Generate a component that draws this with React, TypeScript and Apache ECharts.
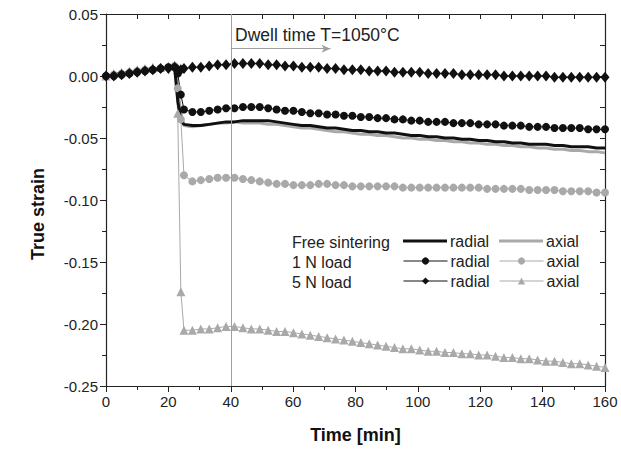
import React, { useEffect, useRef } from "react";
import * as echarts from "echarts";

// Time [min]
const TIME = [
  0, 2.5, 5, 7.5, 10, 12.5, 15, 17.5, 20, 22,
  23, 24,
  25, 27.7, 30.4, 33.1, 35.8, 38.5, 41.2, 43.9, 46.6, 49.3,
  52, 54.7, 57.4, 60.1, 62.8, 65.5, 68.2, 70.9, 73.6, 76.3,
  79, 81.7, 84.4, 87.1, 89.8, 92.5, 95.2, 97.9, 100.6, 103.3,
  106, 108.7, 111.4, 114.1, 116.8, 119.5, 122.2, 124.9, 127.6, 130.3,
  133, 135.7, 138.4, 141.1, 143.8, 146.5, 149.2, 151.9, 154.6, 157.3,
  160,
];

const FREE_RADIAL = [
  0, 0.001, 0.002, 0.003, 0.004, 0.005, 0.005, 0.006, 0.007, 0.007,
  -0.02, -0.036,
  -0.039, -0.040, -0.040, -0.039, -0.038, -0.037, -0.037, -0.036, -0.036, -0.036,
  -0.036, -0.037, -0.038, -0.039, -0.040, -0.040, -0.041, -0.042, -0.042, -0.043,
  -0.044, -0.044, -0.045, -0.045, -0.046, -0.046, -0.047, -0.048, -0.048, -0.049,
  -0.049, -0.050, -0.050, -0.051, -0.051, -0.052, -0.052, -0.053, -0.053, -0.054,
  -0.054, -0.055, -0.055, -0.055, -0.056, -0.056, -0.057, -0.057, -0.057, -0.058,
  -0.058,
];

const FREE_AXIAL = [
  0, 0.001, 0.002, 0.003, 0.004, 0.005, 0.006, 0.006, 0.007, 0.008,
  -0.01, -0.03,
  -0.040, -0.041, -0.040, -0.039, -0.038, -0.038, -0.037, -0.038, -0.038, -0.038,
  -0.039, -0.039, -0.040, -0.041, -0.042, -0.042, -0.043, -0.044, -0.045, -0.045,
  -0.046, -0.047, -0.047, -0.048, -0.048, -0.049, -0.050, -0.050, -0.051, -0.051,
  -0.052, -0.052, -0.053, -0.053, -0.054, -0.054, -0.055, -0.055, -0.056, -0.056,
  -0.057, -0.057, -0.058, -0.058, -0.059, -0.059, -0.060, -0.060, -0.061, -0.061,
  -0.062,
];

const ONE_N_RADIAL = [
  0, 0.0, 0.001, 0.002, 0.003, 0.004, 0.005, 0.006, 0.007, 0.007,
  0.002, -0.015,
  -0.027, -0.029, -0.029, -0.028, -0.027, -0.026, -0.026, -0.025, -0.025, -0.025,
  -0.026, -0.027, -0.028, -0.028, -0.029, -0.030, -0.030, -0.031, -0.031, -0.032,
  -0.032, -0.033, -0.033, -0.034, -0.034, -0.035, -0.035, -0.036, -0.036, -0.037,
  -0.037, -0.037, -0.038, -0.038, -0.038, -0.039, -0.039, -0.039, -0.040, -0.040,
  -0.040, -0.041, -0.041, -0.041, -0.042, -0.042, -0.042, -0.042, -0.043, -0.043,
  -0.043,
];

const ONE_N_AXIAL = [
  0, 0.001, 0.002, 0.003, 0.004, 0.005, 0.005, 0.006, 0.007, 0.008,
  -0.01, -0.035,
  -0.080, -0.085, -0.084, -0.083, -0.082, -0.082, -0.082, -0.083, -0.084, -0.085,
  -0.086, -0.087, -0.087, -0.088, -0.088, -0.088, -0.087, -0.087, -0.088, -0.088,
  -0.089, -0.089, -0.089, -0.089, -0.089, -0.089, -0.090, -0.090, -0.090, -0.090,
  -0.090, -0.090, -0.090, -0.090, -0.090, -0.090, -0.091, -0.091, -0.091, -0.091,
  -0.091, -0.092, -0.092, -0.092, -0.092, -0.093, -0.093, -0.093, -0.093, -0.094,
  -0.094,
];

const FIVE_N_RADIAL = [
  0, 0.0, 0.001, 0.002, 0.003, 0.004, 0.005, 0.006, 0.006, 0.007,
  0.005, 0.005,
  0.006, 0.007, 0.007, 0.008, 0.009, 0.009, 0.010, 0.010, 0.010, 0.010,
  0.009, 0.009, 0.008, 0.008, 0.007, 0.007, 0.007, 0.006, 0.006, 0.005,
  0.005, 0.005, 0.004, 0.004, 0.004, 0.003, 0.003, 0.003, 0.003, 0.002,
  0.002, 0.002, 0.002, 0.001, 0.001, 0.001, 0.001, 0.001, 0.0, 0.0,
  0.0, 0.0, 0.0, 0.0, -0.001, -0.001, -0.001, -0.001, -0.001, -0.001,
  -0.001,
];

const FIVE_N_AXIAL = [
  0, 0.002, 0.003, 0.004, 0.005, 0.006, 0.007, 0.007, 0.008, 0.009,
  -0.03, -0.174,
  -0.205, -0.205, -0.204, -0.204, -0.203, -0.202, -0.202, -0.203, -0.204, -0.204,
  -0.205, -0.206, -0.206, -0.207, -0.208, -0.209, -0.210, -0.211, -0.212, -0.213,
  -0.214, -0.215, -0.216, -0.217, -0.218, -0.219, -0.220, -0.220, -0.221, -0.222,
  -0.222, -0.223, -0.223, -0.224, -0.224, -0.225, -0.225, -0.226, -0.227, -0.227,
  -0.228, -0.228, -0.229, -0.230, -0.230, -0.231, -0.232, -0.232, -0.233, -0.234,
  -0.235,
];

const ROW_LABELS = ["Free sintering", "1 N load", "5 N load"];
const DWELL_TEXT = "Dwell time T=1050°C";
const Y_TITLE = "True strain";
const X_TITLE = "Time [min]";
const DWELL_START = 40;

export default function App() {
  const ref = useRef<HTMLDivElement>(null);

  useEffect(() => {
    if (!ref.current) return;
    const chart = echarts.init(ref.current, null, { renderer: "svg" });
    const pair = (arr: number[]) => TIME.map((t, i) => [t, arr[i]]);
    const font = "Arial, 'Liberation Sans', sans-serif";
    const BLACK = "#111111";
    const GRAY = "#a9a9a9";
    const TXT = "#222222";

    const legendBase: any = {
      orient: "horizontal",
      padding: 0,
      itemWidth: 44,
      itemGap: 0,
      selectedMode: false,
      textStyle: { fontSize: 16, color: TXT, fontFamily: font, padding: [0, 0, 0, -2] },
      formatter: (n: string) => (n.endsWith("radial") ? "radial" : "axial"),
    };
    const thickLeg = (name: string, left: number, y: number) => ({
      ...legendBase,
      itemHeight: 3,
      data: [{ name, icon: "rect" }],
      left,
      top: y - 9,
    });
    const markLeg = (name: string, left: number, y: number) => ({
      ...legendBase,
      itemHeight: 9,
      lineStyle: { width: 1 },
      data: [name],
      left,
      top: y - 9,
    });
    const rowY = [242, 262, 282];

    const option: any = {
      animation: false,
      backgroundColor: "#ffffff",
      grid: { left: 106, right: 16, top: 14, bottom: 66, containLabel: false },
      legend: [
        thickLeg("Free sintering radial", 403, rowY[0]),
        thickLeg("Free sintering axial", 499, rowY[0]),
        markLeg("1 N load radial", 403, rowY[1]),
        markLeg("1 N load axial", 499, rowY[1]),
        markLeg("5 N load radial", 403, rowY[2]),
        markLeg("5 N load axial", 499, rowY[2]),
      ],
      graphic: [
        ...ROW_LABELS.map((t, i) => ({
          type: "text",
          x: 292,
          y: rowY[i],
          silent: true,
          style: { text: t, fontSize: 16, fontFamily: font, fill: TXT, verticalAlign: "middle" },
        })),
        {
          type: "text",
          x: 235,
          y: 35,
          silent: true,
          style: { text: DWELL_TEXT, fontSize: 17.5, fontFamily: font, fill: TXT, verticalAlign: "middle" },
        },
        {
          type: "text",
          x: 38,
          y: 214,
          rotation: Math.PI / 2,
          silent: true,
          style: {
            text: Y_TITLE,
            fontSize: 18,
            fontWeight: "bold",
            fontFamily: font,
            fill: BLACK,
            align: "center",
            verticalAlign: "middle",
          },
        },
      ],
      xAxis: [
        {
          type: "value",
          min: 0,
          max: 160,
          interval: 20,
          position: "bottom",
          axisLine: { show: true, onZero: false, lineStyle: { color: TXT, width: 1.2 } },
          axisTick: { show: true, inside: false, length: 6, lineStyle: { color: TXT } },
          minorTick: { show: true, splitNumber: 2, length: 4, lineStyle: { color: TXT } },
          splitLine: { show: false },
          axisLabel: { fontSize: 15, color: TXT, fontFamily: font, margin: 8 },
          name: X_TITLE,
          nameLocation: "middle",
          nameGap: 40,
          nameTextStyle: { fontSize: 18, fontWeight: "bold", color: BLACK, fontFamily: font },
        },
        {
          type: "value",
          min: 0,
          max: 160,
          interval: 10,
          position: "top",
          axisLine: { show: true, onZero: false, lineStyle: { color: TXT, width: 1.2 } },
          axisTick: { show: true, inside: true, length: 5, lineStyle: { color: TXT } },
          splitLine: { show: false },
          axisLabel: { show: false },
        },
      ],
      yAxis: [
        {
          type: "value",
          min: -0.25,
          max: 0.05,
          interval: 0.05,
          position: "left",
          axisLine: { show: true, onZero: false, lineStyle: { color: TXT, width: 1.2 } },
          axisTick: { show: true, inside: false, length: 6, lineStyle: { color: TXT } },
          minorTick: { show: true, splitNumber: 2, length: 4, lineStyle: { color: TXT } },
          splitLine: { show: false },
          axisLabel: {
            fontSize: 15,
            color: TXT,
            fontFamily: font,
            margin: 8,
            formatter: (v: number) => (Math.abs(v) < 1e-9 ? 0 : v).toFixed(2),
          },
        },
        {
          type: "value",
          min: -0.25,
          max: 0.05,
          interval: 0.025,
          position: "right",
          axisLine: { show: true, onZero: false, lineStyle: { color: TXT, width: 1.2 } },
          axisTick: { show: true, inside: true, length: 5, lineStyle: { color: TXT } },
          splitLine: { show: false },
          axisLabel: { show: false },
        },
      ],
      series: [
        {
          name: "5 N load axial",
          type: "line",
          data: pair(FIVE_N_AXIAL),
          symbol: "triangle",
          symbolSize: 9,
          itemStyle: { color: GRAY },
          lineStyle: { color: GRAY, width: 1 },
        },
        {
          name: "1 N load axial",
          type: "line",
          data: pair(ONE_N_AXIAL),
          symbol: "circle",
          symbolSize: 8,
          itemStyle: { color: GRAY },
          lineStyle: { color: GRAY, width: 1 },
        },
        {
          name: "Free sintering axial",
          type: "line",
          data: pair(FREE_AXIAL),
          symbol: "none",
          itemStyle: { color: GRAY },
          lineStyle: { color: GRAY, width: 3 },
        },
        {
          name: "Free sintering radial",
          type: "line",
          data: pair(FREE_RADIAL),
          symbol: "none",
          itemStyle: { color: BLACK },
          lineStyle: { color: BLACK, width: 3 },
          markLine: {
            silent: true,
            animation: false,
            symbol: ["none", "none"],
            label: { show: false },
            lineStyle: { color: "#a0a0a0", width: 1, type: "solid" },
            data: [
              { xAxis: DWELL_START },
              [
                { coord: [DWELL_START, 0.022], symbol: "none" },
                { coord: [72, 0.022], symbol: "arrow", symbolSize: [6, 9] },
              ],
            ],
          },
        },
        {
          name: "1 N load radial",
          type: "line",
          data: pair(ONE_N_RADIAL),
          symbol: "circle",
          symbolSize: 8,
          itemStyle: { color: BLACK },
          lineStyle: { color: BLACK, width: 1 },
        },
        {
          name: "5 N load radial",
          type: "line",
          data: pair(FIVE_N_RADIAL),
          symbol: "diamond",
          symbolSize: [9, 11],
          itemStyle: { color: BLACK },
          lineStyle: { color: BLACK, width: 1 },
        },
      ],
    };

    chart.setOption(option);
    return () => chart.dispose();
  }, []);

  return (
    <div
      ref={ref}
      style={{ position: "fixed", left: 0, top: 0, width: 621, height: 452, background: "#ffffff" }}
    />
  );
}
